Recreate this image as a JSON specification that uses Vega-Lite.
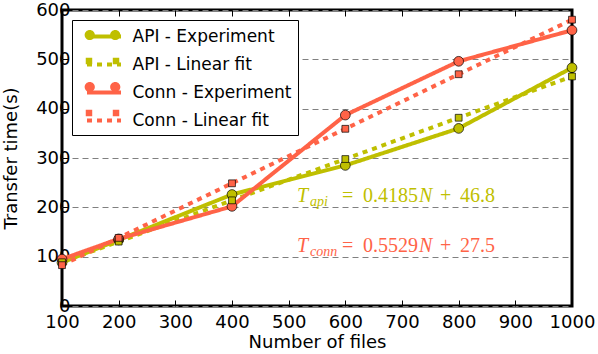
{
  "$schema": "https://vega.github.io/schema/vega-lite/v6.json",
  "width": 510,
  "height": 296,
  "autosize": {"type": "none"},
  "padding": {"left": 62, "top": 10, "right": 26, "bottom": 48},
  "background": "#ffffff",
  "datasets": {
    "series": [
      {"series": "API - Experiment", "n": 100, "t": 88},
      {"series": "API - Experiment", "n": 200, "t": 134},
      {"series": "API - Experiment", "n": 400, "t": 226},
      {"series": "API - Experiment", "n": 600, "t": 285},
      {"series": "API - Experiment", "n": 800, "t": 360},
      {"series": "API - Experiment", "n": 1000, "t": 483},
      {"series": "API - Linear fit", "n": 100, "t": 88.7},
      {"series": "API - Linear fit", "n": 200, "t": 130.5},
      {"series": "API - Linear fit", "n": 400, "t": 214.2},
      {"series": "API - Linear fit", "n": 600, "t": 297.9},
      {"series": "API - Linear fit", "n": 800, "t": 381.6},
      {"series": "API - Linear fit", "n": 1000, "t": 465.3},
      {"series": "Conn - Experiment", "n": 100, "t": 95},
      {"series": "Conn - Experiment", "n": 200, "t": 136},
      {"series": "Conn - Experiment", "n": 400, "t": 202},
      {"series": "Conn - Experiment", "n": 600, "t": 387},
      {"series": "Conn - Experiment", "n": 800, "t": 496},
      {"series": "Conn - Experiment", "n": 1000, "t": 559},
      {"series": "Conn - Linear fit", "n": 100, "t": 82.8},
      {"series": "Conn - Linear fit", "n": 200, "t": 138.1},
      {"series": "Conn - Linear fit", "n": 400, "t": 248.7},
      {"series": "Conn - Linear fit", "n": 600, "t": 359.2},
      {"series": "Conn - Linear fit", "n": 800, "t": 469.8},
      {"series": "Conn - Linear fit", "n": 1000, "t": 580.4}
    ],
    "notes": [
      {"series": "API - Experiment", "n": 514.7, "t": 211, "sub": "api", "coef": "0.4185", "icpt": "46.8"},
      {"series": "Conn - Experiment", "n": 514.7, "t": 110, "sub": "conn", "coef": "0.5529", "icpt": "27.5"}
    ]
  },
  "config": {
    "view": {"stroke": "#000000", "strokeWidth": 3},
    "axis": {
      "labelFont": "DejaVu Sans",
      "labelFontSize": 18,
      "labelColor": "#000000",
      "titleFont": "DejaVu Sans",
      "titleFontSize": 18,
      "titleFontWeight": "normal",
      "titleColor": "#000000",
      "domain": false,
      "tickColor": "#000000",
      "tickSize": -6,
      "tickWidth": 1,
      "grid": false,
      "labelFlush": false,
      "labelOverlap": false
    },
    "legend": {
      "orient": "none", "legendX": 10, "legendY": 10, "title": null,
      "symbolSize": 289, "symbolOffset": 15.5, "labelOffset": 18,
      "labelFont": "DejaVu Sans", "labelFontSize": 17, "labelLimit": 400,
      "padding": 6, "rowPadding": 9, "cornerRadius": 0
    },
    "text": {"font": "Liberation Serif", "fontSize": 20, "align": "left", "baseline": "alphabetic"}
  },
  "resolve": {"axis": {"x": "independent"}},
  "layer": [
    {
      "data": {"name": "series"},
      "mark": {"type": "line", "strokeWidth": 4, "strokeCap": "butt"},
      "encoding": {
        "x": {
          "field": "n", "type": "quantitative",
          "scale": {"domain": [100, 1000], "nice": false, "zero": false},
          "axis": {"orient": "bottom", "values": [100, 200, 300, 400, 500, 600, 700, 800, 900, 1000], "format": "d", "title": "Number of files", "labelPadding": 13, "titlePadding": 2}
        },
        "y": {
          "field": "t", "type": "quantitative",
          "scale": {"domain": [0, 600], "nice": false, "zero": true},
          "axis": {"values": [0, 100, 200, 300, 400, 500, 600], "title": "Transfer time(s)", "grid": true, "gridDash": [6, 4], "gridColor": "#808080", "gridWidth": 1, "labelPadding": -2, "titlePadding": 15}
        },
        "color": {
          "field": "series", "type": "nominal",
          "scale": {"domain": ["API - Experiment", "API - Linear fit", "Conn - Experiment", "Conn - Linear fit", "~"], "range": ["#BFBF00", "#BFBF00", "#FF6347", "#FF6347", "#BFBF00"]},
          "legend": {
            "values": ["API - Experiment", "API - Linear fit", "Conn - Experiment", "Conn - Linear fit"],
            "symbolType": "M-2,0H2", "symbolStrokeWidth": 4,
            "labelColor": "#000000",
            "strokeColor": "#000000", "fillColor": "#ffffff"
          }
        },
        "strokeDash": {
          "field": "series", "type": "nominal",
          "scale": {"domain": ["API - Experiment", "API - Linear fit", "Conn - Experiment", "Conn - Linear fit", "~"], "range": [[1, 0], [5, 5], [1, 0], [5, 5], [1, 0]]},
          "legend": {
            "values": ["API - Experiment", "API - Linear fit", "Conn - Experiment", "Conn - Linear fit"],
            "symbolType": "M-2,0H2", "symbolStrokeWidth": 4,
            "labelColor": "#000000",
            "strokeColor": "#000000", "fillColor": "#ffffff"
          }
        }
      }
    },
    {
      "data": {"name": "series"},
      "transform": [{"filter": "indexof(datum.series, 'Experiment') >= 0"}],
      "mark": {"type": "point", "shape": "circle", "filled": true, "size": 95, "stroke": "#000000", "strokeWidth": 0.7, "opacity": 1},
      "encoding": {
        "x": {"field": "n", "type": "quantitative", "axis": {"orient": "top", "labels": false, "title": null, "values": [100, 200, 300, 400, 500, 600, 700, 800, 900, 1000]}},
        "y": {"field": "t", "type": "quantitative"},
        "fill": {
          "field": "series", "type": "nominal",
          "scale": {"domain": ["API - Experiment", "API - Linear fit", "Conn - Experiment", "Conn - Linear fit"], "range": ["#BFBF00", "#BFBF00", "#FF6347", "#FF6347"]},
          "legend": {"labelColor": "transparent", "labelExpr": "''", "symbolStrokeColor": "#000000", "symbolStrokeWidth": 0.7, "symbolOpacity": 1}
        }
      }
    },
    {
      "data": {"name": "series"},
      "transform": [{"filter": "indexof(datum.series, 'Linear fit') >= 0"}],
      "mark": {"type": "point", "shape": "M-0.7,-0.7H0.7V0.7H-0.7Z", "filled": true, "size": 95, "stroke": "#000000", "strokeWidth": 0.7, "opacity": 1},
      "encoding": {
        "x": {"field": "n", "type": "quantitative", "axis": null},
        "y": {"field": "t", "type": "quantitative"},
        "fill": {
          "field": "series", "type": "nominal",
          "legend": {"labelColor": "transparent", "labelExpr": "''", "symbolStrokeColor": "#000000", "symbolStrokeWidth": 0.7, "symbolOpacity": 1}
        }
      }
    },
    {
      "data": {"name": "series"},
      "transform": [{"filter": "datum.n < 0"}],
      "mark": {"type": "point", "filled": true, "size": 289, "stroke": "#000000", "strokeWidth": 0.7, "opacity": 1},
      "encoding": {
        "x": {"field": "n", "type": "quantitative", "axis": null},
        "y": {"field": "t", "type": "quantitative"},
        "fill": {
          "field": "series", "type": "nominal",
          "legend": {"labelColor": "transparent", "labelExpr": "''", "symbolStrokeColor": "#000000", "symbolStrokeWidth": 0.7, "symbolOpacity": 1}
        },
        "shape": {
          "field": "series", "type": "nominal",
          "scale": {"domain": ["API - Experiment", "API - Linear fit", "Conn - Experiment", "Conn - Linear fit"], "range": [
            "M-2.1,0A0.6,0.6 0 1,0 -0.9,0A0.6,0.6 0 1,0 -2.1,0ZM0.9,0A0.6,0.6 0 1,0 2.1,0A0.6,0.6 0 1,0 0.9,0Z",
            "M-1.97,-0.38H-1.21V0.38H-1.97ZM1.21,-0.38H1.97V0.38H1.21Z",
            "M-2.1,0A0.6,0.6 0 1,0 -0.9,0A0.6,0.6 0 1,0 -2.1,0ZM0.9,0A0.6,0.6 0 1,0 2.1,0A0.6,0.6 0 1,0 0.9,0Z",
            "M-1.97,-0.38H-1.21V0.38H-1.97ZM1.21,-0.38H1.97V0.38H1.21Z"
          ]},
          "legend": {"labelColor": "transparent", "labelExpr": "''", "symbolStrokeColor": "#000000", "symbolStrokeWidth": 0.7, "symbolOpacity": 1}
        }
      }
    },
    {
      "data": {"name": "notes"},
      "mark": {"type": "text", "fontStyle": "italic"},
      "encoding": {
        "x": {"field": "n", "type": "quantitative", "axis": null},
        "y": {"field": "t", "type": "quantitative"},
        "text": {"value": "T"},
        "color": {"field": "series", "type": "nominal", "legend": null}
      }
    },
    {
      "data": {"name": "notes"},
      "mark": {"type": "text", "fontSize": 14, "fontStyle": "italic", "dx": 13, "dy": 4},
      "encoding": {
        "x": {"field": "n", "type": "quantitative", "axis": null},
        "y": {"field": "t", "type": "quantitative"},
        "text": {"field": "sub"},
        "color": {"field": "series", "type": "nominal", "legend": null}
      }
    },
    {
      "data": {"name": "notes"},
      "mark": {"type": "text", "dx": 45},
      "encoding": {
        "x": {"field": "n", "type": "quantitative", "axis": null},
        "y": {"field": "t", "type": "quantitative"},
        "text": {"value": "="},
        "color": {"field": "series", "type": "nominal", "legend": null}
      }
    },
    {
      "data": {"name": "notes"},
      "mark": {"type": "text", "dx": 66},
      "encoding": {
        "x": {"field": "n", "type": "quantitative", "axis": null},
        "y": {"field": "t", "type": "quantitative"},
        "text": {"field": "coef"},
        "color": {"field": "series", "type": "nominal", "legend": null}
      }
    },
    {
      "data": {"name": "notes"},
      "mark": {"type": "text", "fontStyle": "italic", "dx": 122},
      "encoding": {
        "x": {"field": "n", "type": "quantitative", "axis": null},
        "y": {"field": "t", "type": "quantitative"},
        "text": {"value": "N"},
        "color": {"field": "series", "type": "nominal", "legend": null}
      }
    },
    {
      "data": {"name": "notes"},
      "mark": {"type": "text", "dx": 143},
      "encoding": {
        "x": {"field": "n", "type": "quantitative", "axis": null},
        "y": {"field": "t", "type": "quantitative"},
        "text": {"value": "+"},
        "color": {"field": "series", "type": "nominal", "legend": null}
      }
    },
    {
      "data": {"name": "notes"},
      "mark": {"type": "text", "dx": 163},
      "encoding": {
        "x": {"field": "n", "type": "quantitative", "axis": null},
        "y": {"field": "t", "type": "quantitative"},
        "text": {"field": "icpt"},
        "color": {"field": "series", "type": "nominal", "legend": null}
      }
    }
  ]
}
